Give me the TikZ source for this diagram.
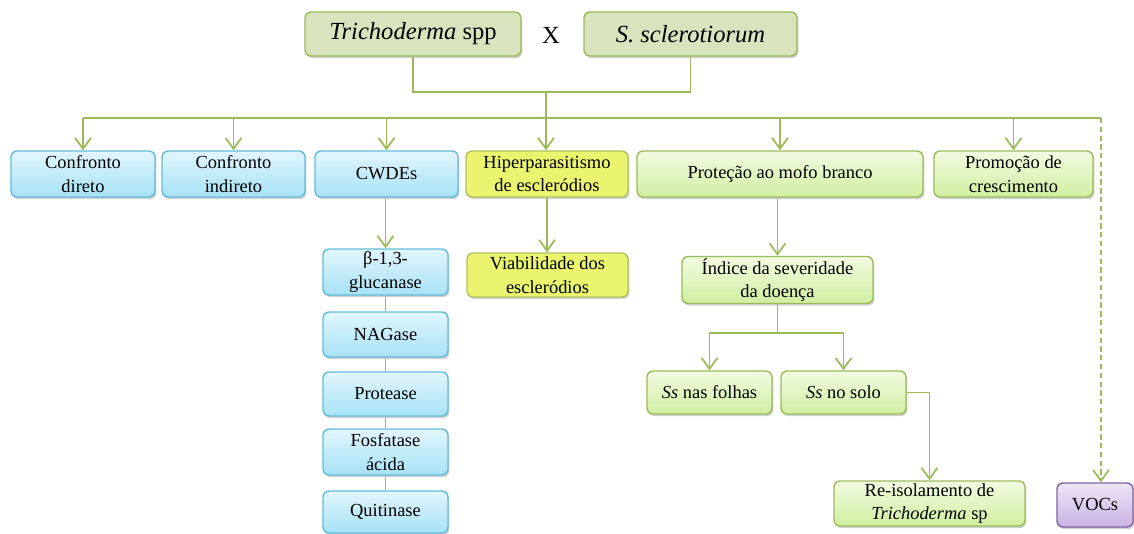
\documentclass[tikz,border=0pt]{standalone}
\usepackage{fontspec}
\setmainfont{Liberation Serif}
\usetikzlibrary{arrows.meta,shadows}

\definecolor{verdeLinha}{HTML}{9BBB59}
\definecolor{verdeTopo}{HTML}{D7E4BD}
\definecolor{azulTopo}{HTML}{E2F6FD}
\definecolor{azulBase}{HTML}{A6E2F6}
\definecolor{azulBorda}{HTML}{62BBDA}
\definecolor{amarelo}{HTML}{EAF46E}
\definecolor{amareloBorda}{HTML}{AFC25C}
\definecolor{verdeClaro}{HTML}{F2FBE2}
\definecolor{verdeBase}{HTML}{D0EFA0}
\definecolor{lilasTopo}{HTML}{EEE6F7}
\definecolor{lilasBase}{HTML}{C9B3E3}
\definecolor{lilasBorda}{HTML}{8064A2}

% 1 Einheit = 1 Pixel der Vorlage
\def\upx{0.02cm}

\tikzset{
  caixa/.style={draw, rounded corners=3.5pt, line width=0.8pt, align=center,
    inner sep=1pt, font=\fontsize{10.5}{13.5}\selectfont,
    drop shadow={shadow xshift=0.8pt, shadow yshift=-1.2pt, opacity=0.3, fill=black!60}},
  topo/.style={caixa, draw=verdeLinha, fill=verdeTopo, minimum height=44*\upx,
    font=\fontsize{14}{16}\selectfont},
  azul/.style={caixa, draw=azulBorda, top color=azulTopo, bottom color=azulBase},
  amar/.style={caixa, draw=amareloBorda, fill=amarelo},
  verde/.style={caixa, draw=verdeLinha, top color=verdeClaro, bottom color=verdeBase},
  lilas/.style={caixa, draw=lilasBorda, top color=lilasTopo, bottom color=lilasBase},
  linha/.style={draw=verdeLinha, line width=1pt},
  seta/.style={linha, -{Straight Barb[length=2.2mm, width=3.2mm]}},
}

\begin{document}
\begin{tikzpicture}[x=0.02cm, y=-0.02cm]
  \useasboundingbox (0,0) rectangle (1134,534);
%Kopf
  \node[topo, minimum width=216*\upx] (tri) at (413,34) {\textit{Trichoderma} spp};
  \node[font=\fontsize{14}{16}\selectfont] (xis) at (551,35) {X};
  \node[topo, minimum width=213*\upx] (ssc) at (690.5,34) {\textit{S. sclerotiorum}};
%erste Reihe
  \node[azul, minimum width=144*\upx, minimum height=46*\upx] (cd) at (83,174) {Confronto\\direto};
  \node[azul, minimum width=143*\upx, minimum height=46*\upx] (ci) at (233.5,174) {Confronto\\indireto};
  \node[azul, minimum width=143*\upx, minimum height=46*\upx] (cw) at (386.5,174) {CWDEs};
  \node[amar, minimum width=162*\upx, minimum height=46*\upx] (hip) at (547,174) {Hiperparasitismo\\de escleródios};
  \node[verde, minimum width=286*\upx, minimum height=46*\upx] (pro) at (780,174) {Proteção ao mofo branco};
  \node[verde, minimum width=159*\upx, minimum height=46*\upx] (prm) at (1013.5,174) {Promoção de\\crescimento};
%Enzyme
  \node[azul, minimum width=125*\upx, minimum height=46*\upx] (glu) at (385.5,272) {β-1,3-\\glucanase};
  \node[azul, minimum width=125*\upx, minimum height=45*\upx] (nag) at (385.5,334.5) {NAGase};
  \node[azul, minimum width=125*\upx, minimum height=44*\upx] (prt) at (385.5,394) {Protease};
  \node[azul, minimum width=125*\upx, minimum height=46*\upx] (fos) at (385.5,452) {Fosfatase\\ácida};
  \node[azul, minimum width=125*\upx, minimum height=42*\upx] (qui) at (385.5,512) {Quitinase};
%Rest
  \node[amar, minimum width=161*\upx, minimum height=44*\upx] (via) at (547.5,275) {Viabilidade dos\\escleródios};
  \node[verde, minimum width=191*\upx, minimum height=46*\upx] (ind) at (777.5,280) {Índice da severidade\\da doença};
  \node[verde, minimum width=125*\upx, minimum height=43*\upx] (ssf) at (709.5,392.5) {\textit{Ss} nas folhas};
  \node[verde, minimum width=125*\upx, minimum height=43*\upx] (sss) at (843.5,392.5) {\textit{Ss} no solo};
  \node[verde, minimum width=191*\upx, minimum height=45*\upx] (rei) at (929.5,503.5) {Re-isolamento de\\\textit{Trichoderma} sp};
  \node[lilas, minimum width=76*\upx, minimum height=44*\upx] (voc) at (1095,505) {VOCs};
%Verbindungen
  \coordinate (jn) at (546,92);
  \coordinate (busE) at (83,118);
  \coordinate (busD) at (1101,118);
  \draw[linha] (tri.south) |- (jn) -| (ssc.south);
  \draw[linha] (busE) -- (busD);
  \draw[seta] (jn) -- (jn |- hip.north);
  \foreach \n in {cd,ci,cw,pro,prm}{
    \draw[seta] (\n.north |- busE) -- (\n.north);
  }
  \draw[seta, dash pattern=on 3pt off 2pt] (busD) -- (busD |- voc.north);
  \draw[seta] (glu.north |- cw.south) -- (glu.north);
  \foreach \a/\b in {glu/nag,nag/prt,prt/fos,fos/qui}{
    \draw[linha] (\a.south) -- (\b.north);
  }
  \draw[seta] (hip.south) -- (hip.south |- via.north);
  \draw[seta] (ind.north |- pro.south) -- (ind.north);
  \draw[linha] (ind.south) -- ++(0,29) coordinate (div);
  \draw[seta] (div) -| (ssf.north);
  \draw[seta] (div) -| (sss.north);
  \draw[seta] (sss.east) -| (rei.north);
\end{tikzpicture}
\end{document}
